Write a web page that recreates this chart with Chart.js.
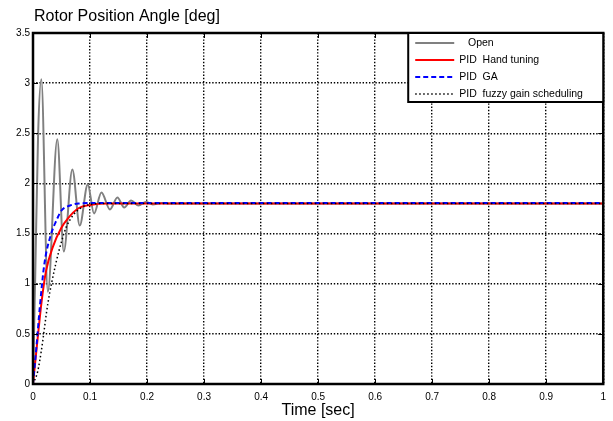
<!DOCTYPE html>
<html>
<head>
<meta charset="utf-8">
<script src="https://cdn.jsdelivr.net/npm/chart.js@4/dist/chart.umd.min.js"></script>
<style>
    html, body { margin: 0; padding: 0; background: #fff; }
    #box { width: 613px; height: 421px; }
</style>
</head>
<body>
<div id="box"><canvas id="myChart" width="613" height="421"></canvas></div>
<script>
//! DATA
const chartTitle = 'Rotor Position Angle [deg]';
const xTitle = 'Time [sec]';
const xTickLabels = ['0', '0.1', '0.2', '0.3', '0.4', '0.5', '0.6', '0.7', '0.8', '0.9', '1'];
const yTickLabels = ['0', '0.5', '1', '1.5', '2', '2.5', '3', '3.5'];
const seriesNames = ['   Open', 'PID  Hand tuning', 'PID  GA', 'PID  fuzzy gain scheduling'];

//* Open loop
const openTime = [0, 0.004, 0.009, 0.0146, 0.026, 0.0426, 0.054, 0.069, 0.082, 0.096, 0.107, 0.12, 0.135, 0.148, 0.16, 0.172, 0.185, 0.198, 0.21, 0.225, 0.24, 1];
const openAngle = [0, 1.1, 2.5, 3.04, 0.92, 2.44, 1.32, 2.14, 1.58, 1.99, 1.70, 1.91, 1.74, 1.86, 1.76, 1.83, 1.78, 1.815, 1.79, 1.805, 1.8, 1.8];

//* PID hand tuning
const handTime = [0, 0.003, 0.009, 0.0146, 0.023, 0.035, 0.05, 0.061, 0.079, 0.1, 0.13, 1];
const handAngle = [0, 0.17, 0.5, 0.8, 1.13, 1.37, 1.56, 1.65, 1.75, 1.785, 1.8, 1.8];

//* PID GA
const gaTime = [0, 0.006, 0.012, 0.02, 0.032, 0.041, 0.05, 0.065, 0.08, 0.11, 1];
const gaAngle = [0, 0.37, 0.77, 1.2, 1.5, 1.63, 1.73, 1.78, 1.8, 1.805, 1.805];

//* PID fuzzy gain scheduling
const fuzzyTime = [0, 0.008, 0.0146, 0.026, 0.04, 0.05, 0.058, 0.07, 0.085, 0.1, 0.13, 1];
const fuzzyAngle = [0, 0.12, 0.33, 0.8, 1.2, 1.42, 1.56, 1.68, 1.76, 1.79, 1.8, 1.8];

function toPoints(xs, ys) {
    return xs.map((x, i) => ({ x: x, y: ys[i] }));
}

//! CHART JS CONFIG
const data = {
    datasets: [{
        label: seriesNames[0],
        data: toPoints(openTime, openAngle),
        borderColor: '#808080',
        borderWidth: 2,
        order: 4
    },
    {
        label: seriesNames[1],
        data: toPoints(handTime, handAngle),
        borderColor: '#ff0000',
        borderWidth: 2,
        order: 3
    },
    {
        label: seriesNames[2],
        data: toPoints(gaTime, gaAngle),
        borderColor: '#0000ff',
        borderWidth: 2,
        borderDash: [5, 3],
        order: 2
    },
    {
        label: seriesNames[3],
        data: toPoints(fuzzyTime, fuzzyAngle),
        borderColor: '#000000',
        borderWidth: 1.5,
        borderDash: [1.5, 2.5],
        order: 1
    }]
};

//* frame, inner ticks, title and legend box (matlab look)
const matlabLook = {
    id: 'matlabLook',
    afterDraw(chart) {
        const ctx = chart.ctx;
        const area = chart.chartArea;
        const xs = chart.scales.x;
        const ys = chart.scales.y;
        ctx.save();

        //* inner tick marks
        ctx.strokeStyle = '#000';
        ctx.lineWidth = 1;
        ctx.setLineDash([]);
        ctx.beginPath();
        xs.ticks.forEach(t => {
            const px = Math.round(xs.getPixelForValue(t.value)) + 0.5;
            ctx.moveTo(px, area.bottom); ctx.lineTo(px, area.bottom - 5);
            ctx.moveTo(px, area.top); ctx.lineTo(px, area.top + 5);
        });
        ys.ticks.forEach(t => {
            const py = Math.round(ys.getPixelForValue(t.value)) + 0.5;
            ctx.moveTo(area.left, py); ctx.lineTo(area.left + 5, py);
            ctx.moveTo(area.right, py); ctx.lineTo(area.right - 5, py);
        });
        ctx.stroke();

        //* frame
        ctx.lineWidth = 2.5;
        ctx.strokeRect(area.left, area.top, area.right - area.left, area.bottom - area.top);

        //* title
        ctx.fillStyle = '#000';
        ctx.font = '16px "Liberation Sans", Arial, sans-serif';
        ctx.textAlign = 'left';
        ctx.textBaseline = 'middle';
        ctx.fillText(chartTitle, 34, 17);

        //* legend box
        const bw = 195, bh = 69;
        const bx = area.right - bw, by = area.top;
        ctx.fillStyle = '#fff';
        ctx.fillRect(bx, by, bw, bh);
        ctx.lineWidth = 2;
        ctx.strokeRect(bx, by, bw, bh);
        ctx.font = '10.5px "Liberation Sans", Arial, sans-serif';
        chart.data.datasets.forEach((ds, i) => {
            const ry = by + 10 + i * 17;
            ctx.strokeStyle = ds.borderColor;
            ctx.lineWidth = ds.borderWidth;
            ctx.setLineDash(ds.borderDash || []);
            ctx.beginPath();
            ctx.moveTo(bx + 7, ry);
            ctx.lineTo(bx + 46, ry);
            ctx.stroke();
            ctx.setLineDash([]);
            ctx.fillStyle = '#000';
            ctx.fillText(ds.label, bx + 51, ry);
        });
        ctx.restore();
    }
};

const config = {
    type: 'line',
    data,
    options: {
        responsive: false,
        animation: false,
        events: [],
        layout: {
            padding: { top: 33, right: 9, bottom: 0, left: 0 }
        },
        elements: {
            point: { radius: 0 },
            line: { cubicInterpolationMode: 'monotone', fill: false }
        },
        plugins: {
            legend: { display: false },
            title: { display: false },
            tooltip: { enabled: false }
        },
        scales: {
            x: {
                type: 'linear',
                min: 0,
                max: 1,
                afterFit: scale => { scale.height = 37; },
                ticks: {
                    stepSize: 0.1,
                    padding: 7,
                    maxRotation: 0,
                    autoSkip: false,
                    color: '#000',
                    font: { family: '"Liberation Sans", Arial, sans-serif', size: 10 },
                    callback: (v, i) => xTickLabels[i]
                },
                grid: {
                    color: '#000',
                    lineWidth: 1.4,
                    drawTicks: false
                },
                border: { display: false, dash: [1.4, 1.8] },
                title: {
                    display: true,
                    text: xTitle,
                    color: '#000',
                    padding: { top: 0, bottom: 1 },
                    font: { family: '"Liberation Sans", Arial, sans-serif', size: 16 }
                }
            },
            y: {
                min: 0,
                max: 3.5,
                afterFit: scale => { scale.width = 33; },
                ticks: {
                    stepSize: 0.5,
                    padding: 3,
                    color: '#000',
                    font: { family: '"Liberation Sans", Arial, sans-serif', size: 10 },
                    callback: (v, i) => yTickLabels[i]
                },
                grid: {
                    color: '#000',
                    lineWidth: 1.4,
                    drawTicks: false
                },
                border: { display: false, dash: [1.4, 1.8] }
            }
        }
    },
    plugins: [matlabLook]
};

//! CREATE CHART
const myChart = new Chart(document.getElementById('myChart'), config);
</script>
</body>
</html>
